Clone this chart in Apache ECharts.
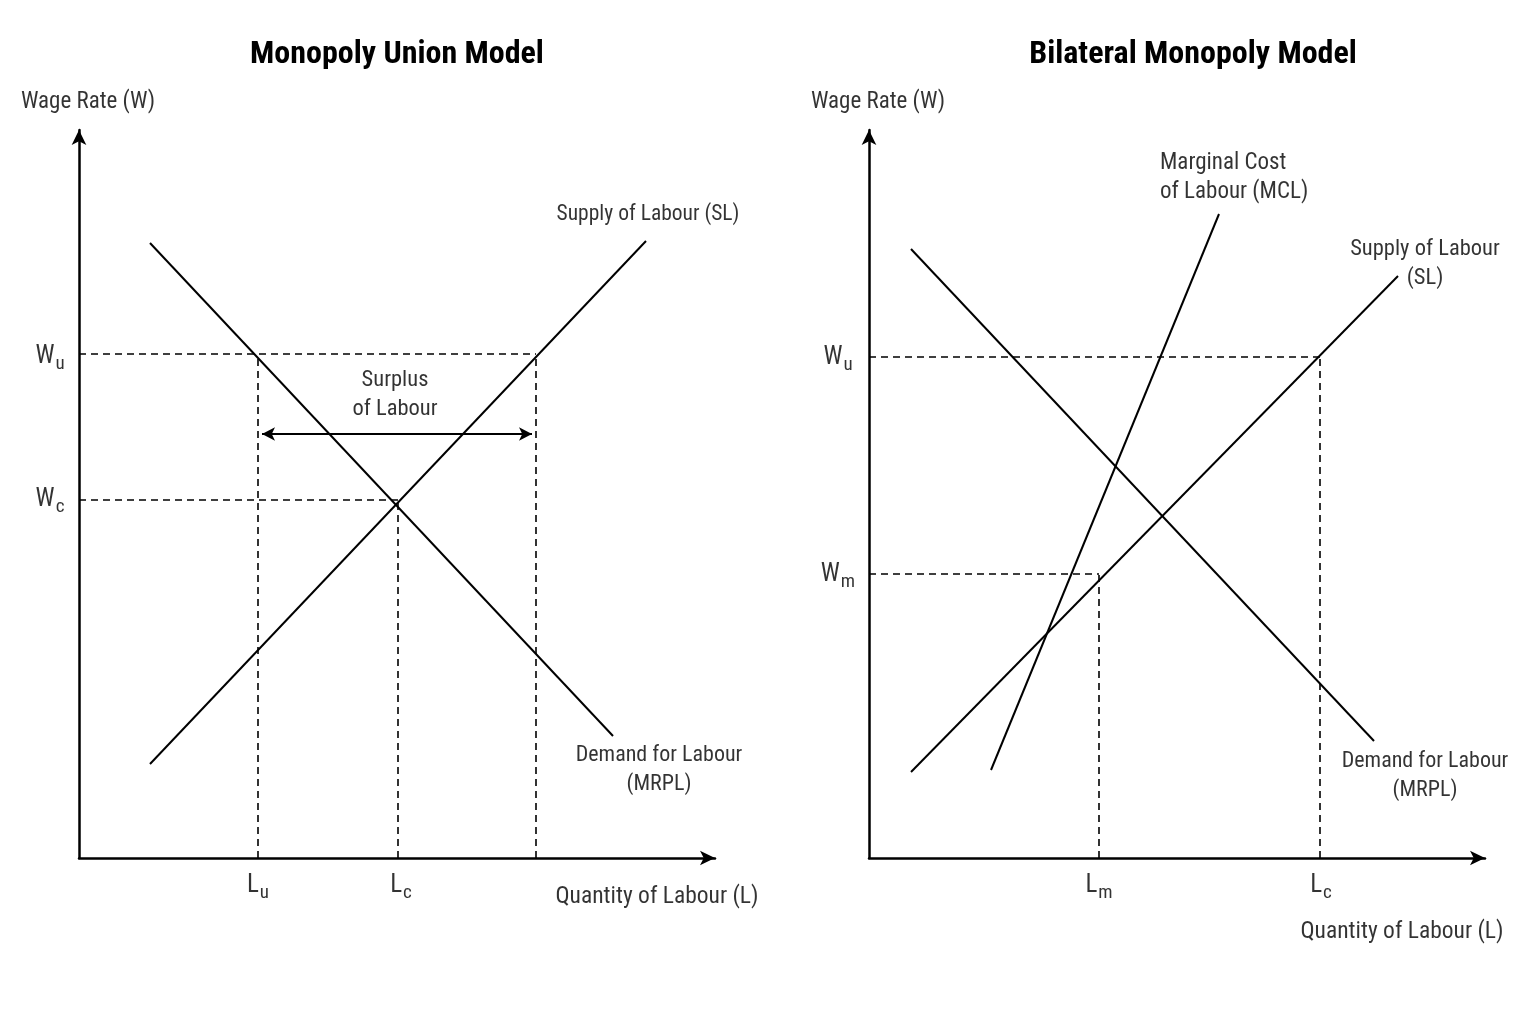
<!DOCTYPE html>
<html>
<head>
<meta charset="utf-8">
<script src="https://cdn.jsdelivr.net/npm/echarts@6/dist/echarts.min.js"></script>
<style>
html,body{margin:0;padding:0;background:#fff;}
#main{width:1536px;height:1024px;}
</style>
</head>
<body>
<div id="main"></div>
<script>
// 坐标单位: 以原点为零点的像素距离
// 左图 Monopoly Union
var unionDemand = [[71, 615], [534, 122]];
var unionSupply = [[71, 94], [567, 617]];
var unionWu = 504, unionWc = 358;
var unionLu = 179, unionLc = 319, unionLs = 457;
var surplusArrow = [[183, 424], [453, 424]];
var unionTicks = [[-29, 501, 'W', 'u'], [-29, 358, 'W', 'c'], [179, -28, 'L', 'u'], [322, -28, 'L', 'c']];
var unionNotes = [
    [316, 463, 'Surplus\nof Labour', 'center'],
    [569, 643, 'Supply of Labour (SL)', 'center'],
    [580, 88, 'Demand for Labour\n(MRPL)', 'center'],
    [578, -39, 'Quantity of Labour (L)', 'center'],
    [9, 756, 'Wage Rate (W)', 'center']
];
var unionNoteSizes = [22.5, 21.5, 22, 23.5, 23];

// 右图 Bilateral Monopoly
var bilatDemand = [[42, 609], [505, 117]];
var bilatSupply = [[42, 86], [529, 582]];
var bilatMcl = [[122, 88], [350, 644]];
var bilatWu = 501, bilatWm = 284;
var bilatLm = 230, bilatLc = 451;
var bilatTicks = [[-31, 500, 'W', 'u'], [-31, 283, 'W', 'm'], [230, -28, 'L', 'm'], [452, -28, 'L', 'c']];
var bilatNotes = [
    [291, 680, 'Marginal Cost\nof Labour (MCL)', 'left'],
    [556, 594, 'Supply of Labour\n(SL)', 'center'],
    [556, 82, 'Demand for Labour\n(MRPL)', 'center'],
    [533, -74, 'Quantity of Labour (L)', 'center'],
    [9, 756, 'Wage Rate (W)', 'center']
];
var bilatNoteSizes = [23, 22.5, 22, 23.5, 23];

var FONT = "'Liberation Sans Narrow', 'Roboto Condensed', 'DejaVu Sans Condensed', sans-serif";

var solid = {color: '#000', width: 2};
var dashed = {color: '#000', width: 1.6, type: [7, 5]};

function lineSeries(idx, data, style) {
    return {
        type: 'line', xAxisIndex: idx, yAxisIndex: idx, data: data,
        symbol: 'none', lineStyle: style, clip: false, silent: true, animation: false
    };
}

function tickSeries(idx, ticks) {
    return {
        type: 'scatter', xAxisIndex: idx, yAxisIndex: idx, symbolSize: 0, clip: false,
        silent: true, animation: false,
        data: ticks.map(function (t) {
            return {value: [t[0], t[1]], label: {formatter: '{m|' + t[2] + '}{s|' + t[3] + '}'}};
        }),
        label: {
            show: true, position: 'inside', align: 'center', verticalAlign: 'middle',
            rich: {
                m: {fontFamily: FONT, fontSize: 25, color: '#000'},
                s: {fontFamily: FONT, fontSize: 19, color: '#000', padding: [14, 0, 0, 1]}
            }
        }
    };
}

function noteSeries(idx, notes, sizes) {
    return {
        type: 'scatter', xAxisIndex: idx, yAxisIndex: idx, symbolSize: 0, clip: false,
        silent: true, animation: false,
        data: notes.map(function (n, i) {
            return {value: [n[0], n[1]], label: {formatter: n[2], align: n[3], fontSize: sizes[i]}};
        }),
        label: {
            show: true, position: 'inside', verticalAlign: 'middle',
            fontFamily: FONT, color: '#000', lineHeight: 29
        }
    };
}

function axisLine() {
    return {show: true, symbol: ['none', 'arrow'], symbolSize: [11, 15], lineStyle: {color: '#000', width: 2.5}};
}

var myChart = echarts.init(document.getElementById('main'));

var option = {
    backgroundColor: '#fff',
    title: [
        {text: 'Monopoly Union Model', left: 392, top: 34, textAlign: 'center',
            textStyle: {fontFamily: FONT, fontSize: 32, fontWeight: 'bold', color: '#000'}},
        {text: 'Bilateral Monopoly Model', left: 1188, top: 34, textAlign: 'center',
            textStyle: {fontFamily: FONT, fontSize: 32, fontWeight: 'bold', color: '#000'}}
    ],
    grid: [
        {left: 79, top: 130, width: 636, height: 728},
        {left: 869, top: 130, width: 616, height: 728}
    ],
    xAxis: [
        {type: 'value', gridIndex: 0, min: 0, max: 636, axisLine: axisLine(),
            axisTick: {show: false}, axisLabel: {show: false}, splitLine: {show: false}},
        {type: 'value', gridIndex: 1, min: 0, max: 616, axisLine: axisLine(),
            axisTick: {show: false}, axisLabel: {show: false}, splitLine: {show: false}}
    ],
    yAxis: [
        {type: 'value', gridIndex: 0, min: 0, max: 728, axisLine: axisLine(),
            axisTick: {show: false}, axisLabel: {show: false}, splitLine: {show: false}},
        {type: 'value', gridIndex: 1, min: 0, max: 728, axisLine: axisLine(),
            axisTick: {show: false}, axisLabel: {show: false}, splitLine: {show: false}}
    ],
    series: [
        // 左图
        lineSeries(0, unionDemand, solid),
        lineSeries(0, unionSupply, solid),
        lineSeries(0, [[0, unionWu], [unionLs, unionWu]], dashed),
        lineSeries(0, [[0, unionWc], [unionLc, unionWc]], dashed),
        lineSeries(0, [[unionLu, 0], [unionLu, unionWu]], dashed),
        lineSeries(0, [[unionLc, 0], [unionLc, unionWc]], dashed),
        lineSeries(0, [[unionLs, 0], [unionLs, unionWu]], dashed),
        {
            type: 'line', xAxisIndex: 0, yAxisIndex: 0, data: [], silent: true, animation: false,
            markLine: {
                silent: true, animation: false, symbol: ['arrow', 'arrow'], symbolSize: [10, 13],
                label: {show: false},
                lineStyle: {color: '#000', width: 2, type: 'solid'},
                data: [[{coord: surplusArrow[0]}, {coord: surplusArrow[1]}]]
            }
        },
        tickSeries(0, unionTicks),
        noteSeries(0, unionNotes, unionNoteSizes),
        // 右图
        lineSeries(1, bilatDemand, solid),
        lineSeries(1, bilatSupply, solid),
        lineSeries(1, bilatMcl, solid),
        lineSeries(1, [[0, bilatWu], [bilatLc, bilatWu]], dashed),
        lineSeries(1, [[0, bilatWm], [bilatLm, bilatWm]], dashed),
        lineSeries(1, [[bilatLm, 0], [bilatLm, bilatWm]], dashed),
        lineSeries(1, [[bilatLc, 0], [bilatLc, bilatWu]], dashed),
        tickSeries(1, bilatTicks),
        noteSeries(1, bilatNotes, bilatNoteSizes)
    ]
};

if (option && typeof option === 'object') {
    myChart.setOption(option);
}
</script>
</body>
</html>
